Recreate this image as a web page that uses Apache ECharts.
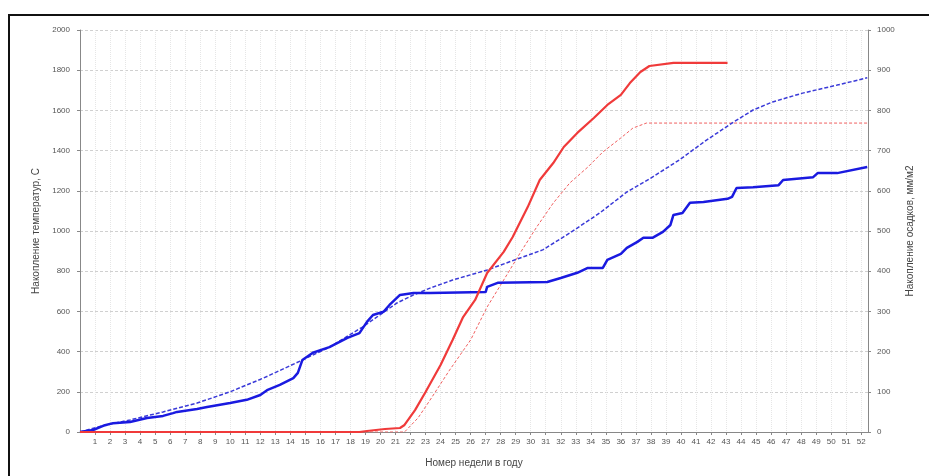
<!DOCTYPE html>
<html><head><meta charset="utf-8">
<script src="https://cdn.jsdelivr.net/npm/echarts@6/dist/echarts.min.js"></script>
<style>html,body{margin:0;padding:0;background:#fff}#c{width:929px;height:476px}</style>
</head><body><div id="c"></div>
<script>
// Week numbers shown on the x axis
var weekLabels = [];
for (var i = 1; i <= 52; i++) weekLabels.push(i);

// Red solid: accumulated temperature (left axis, °C)
var redSolidWeeks  = [0, 18.6, 19.1, 20.3, 21.3, 21.6, 22.3, 23.0, 24.0, 24.8, 25.5, 26.3, 27.1, 28.2, 28.8, 29.8, 30.6, 31.5, 32.2, 33.1, 34.2, 35.1, 36.0, 36.6, 37.3, 37.9, 39.5, 43.1];
var redSolidValues = [0, 0, 5, 15, 20, 35, 109, 199, 333, 458, 572, 657, 791, 896, 970, 1119, 1254, 1338, 1418, 1488, 1562, 1627, 1677, 1736, 1791, 1821, 1836, 1836];

// Red dashed: accumulated temperature, norm (left axis, °C)
var redDashWeeks  = [0, 21.6, 22.5, 23.3, 24.6, 26.0, 27.1, 28.2, 29.3, 30.4, 31.5, 32.6, 33.8, 34.8, 36.0, 36.8, 37.7, 52.4];
var redDashValues = [0, 0, 70, 159, 308, 458, 622, 756, 891, 1020, 1139, 1239, 1318, 1393, 1463, 1512, 1537, 1537];

// Blue solid: accumulated precipitation (right axis)
var blueSolidWeeks  = [0, 0.87, 1.66, 2.2, 3.33, 4.46, 5.53, 6.19, 6.46, 7.79, 8.46, 9.99, 11.1, 12.0, 12.45, 13.3, 14.2, 14.5, 14.8, 15.5, 16.6, 17.8, 18.6, 19.1, 19.5, 20.2, 20.6, 21.3, 22.2, 23.3, 27.0, 27.1, 27.8, 31.1, 32.0, 33.1, 33.8, 34.8, 35.1, 36.0, 36.4, 37.1, 37.5, 38.1, 38.8, 39.3, 39.5, 40.1, 40.6, 41.5, 43.1, 43.4, 43.7, 44.8, 46.5, 46.8, 48.8, 49.1, 50.4, 52.4];
var blueSolidValues = [0, 5, 17, 22, 25, 35, 40, 47, 50, 57, 62, 72, 80, 92, 104, 117, 134, 147, 179, 197, 211, 234, 246, 274, 291, 299, 316, 341, 346, 346, 348, 361, 371, 373, 383, 396, 408, 408, 428, 443, 458, 473, 483, 483, 498, 515, 540, 545, 570, 572, 580, 585, 607, 609, 614, 627, 634, 644, 644, 659];

// Blue dashed: accumulated precipitation, norm (right axis)
var blueDashWeeks  = [0, 1.33, 3.33, 5.53, 7.79, 9.99, 12.2, 14.4, 16.6, 18.8, 21.1, 22.2, 23.3, 24.8, 27.1, 29.3, 30.8, 32.6, 34.6, 36.4, 38.1, 39.9, 41.7, 43.5, 44.8, 46.1, 48.1, 50.4, 52.4];
var blueDashValues = [0, 14, 30, 50, 72, 100, 134, 172, 211, 261, 321, 341, 358, 378, 403, 433, 453, 495, 545, 597, 634, 677, 726, 771, 801, 821, 843, 863, 881];

function pairs(xs, ys) { return xs.map(function (x, i) { return [x, ys[i]]; }); }

var font = 'Liberation Sans, Arial, sans-serif';
var chart = echarts.init(document.getElementById('c'), null, { renderer: 'canvas' });
chart.setOption({
  animation: false,
  backgroundColor: '#fff',
  graphic: [{
    type: 'rect', shape: { x: 9, y: 15, width: 930, height: 480 },
    style: { fill: 'none', stroke: '#111', lineWidth: 2 }, silent: true
  }],
  grid: { left: 80, right: 61, top: 30, bottom: 44 },
  xAxis: {
    type: 'value', min: 0, max: 52.45, interval: 1,
    name: 'Номер недели в году', nameLocation: 'middle', nameGap: 26,
    nameTextStyle: { color: '#444', fontSize: 10, fontFamily: font },
    axisLine: { show: true, lineStyle: { color: '#888' } },
    axisTick: { show: true, length: 3, lineStyle: { color: '#888' } },
    axisLabel: {
      color: '#555', fontSize: 8, fontFamily: font, margin: 6,
      showMinLabel: false, showMaxLabel: false,
      formatter: function (v) { return (v >= 1 && v <= 52 && Math.abs(v - Math.round(v)) < 1e-6 && weekLabels.indexOf(Math.round(v)) >= 0) ? String(Math.round(v)) : ''; }
    },
    splitLine: { show: true, lineStyle: { color: '#e6e6e6', type: 'dotted', width: 1 } }
  },
  yAxis: [{
    type: 'value', min: 0, max: 2000, interval: 200,
    name: 'Накопление температур, С', nameLocation: 'middle', nameGap: 35,
    nameTextStyle: { color: '#444', fontSize: 10, fontFamily: font },
    axisLine: { show: true, lineStyle: { color: '#888' } },
    axisTick: { show: true, length: 3, lineStyle: { color: '#888' } },
    axisLabel: { margin: 10, color: '#555', fontSize: 8, fontFamily: font, formatter: function (v) { return String(v); } },
    splitLine: { show: true, lineStyle: { color: '#d0d0d0', type: [3, 2], width: 1 } }
  }, {
    type: 'value', min: 0, max: 1000, interval: 100, position: 'right',
    name: 'Накопление осадков, мм/м2', nameLocation: 'middle', nameGap: 32, nameRotate: 90,
    nameTextStyle: { color: '#444', fontSize: 10, fontFamily: font },
    axisLine: { show: true, lineStyle: { color: '#888' } },
    axisTick: { show: true, length: 3, lineStyle: { color: '#888' } },
    axisLabel: { margin: 9, color: '#555', fontSize: 8, fontFamily: font, formatter: function (v) { return String(v); } },
    splitLine: { show: false }
  }],
  series: [{
    type: 'line', name: 'T', yAxisIndex: 0, showSymbol: false, symbol: 'none',
    data: pairs(redDashWeeks, redDashValues),
    lineStyle: { color: '#f06060', width: 1, type: [3, 2] }, z: 3
  }, {
    type: 'line', name: 'P norm', yAxisIndex: 1, showSymbol: false, symbol: 'none',
    data: pairs(blueDashWeeks, blueDashValues),
    lineStyle: { color: '#3a3ad8', width: 1.5, type: [4, 2] }, z: 3
  }, {
    type: 'line', name: 'P', yAxisIndex: 1, showSymbol: false, symbol: 'none',
    data: pairs(blueSolidWeeks, blueSolidValues),
    lineStyle: { color: '#1a1ae0', width: 2.5 }, z: 4
  }, {
    type: 'line', name: 'T fact', yAxisIndex: 0, showSymbol: false, symbol: 'none',
    data: pairs(redSolidWeeks, redSolidValues),
    lineStyle: { color: '#f03a3a', width: 2.2 }, z: 5
  }]
});
</script>
</body></html>
